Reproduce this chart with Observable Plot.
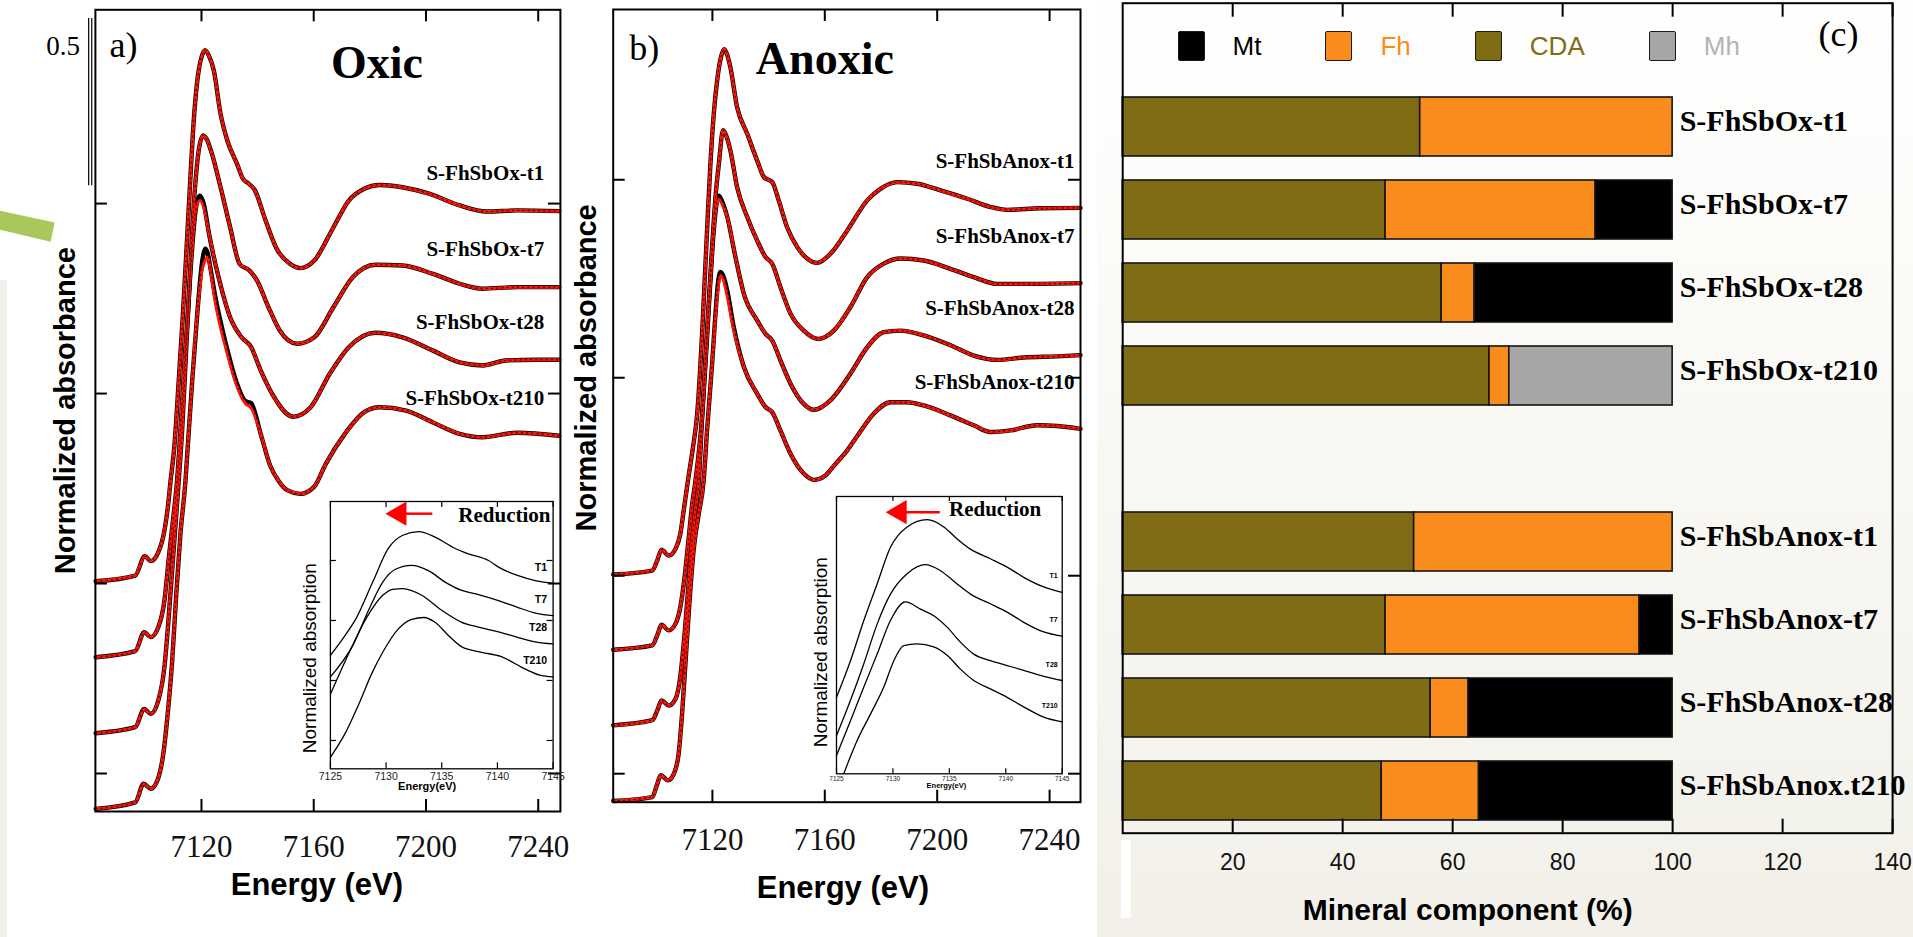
<!DOCTYPE html>
<html>
<head>
<meta charset="utf-8">
<script src="https://cdn.jsdelivr.net/npm/d3@7"></script>
<script src="https://cdn.jsdelivr.net/npm/@observablehq/plot@0.6"></script>
<style>
html,body{margin:0;padding:0;}
body{width:1913px;height:937px;position:relative;overflow:hidden;background:#fff;font-family:"Liberation Sans",Arial,sans-serif;}
.abs{position:absolute;}
</style>
</head>
<body>
<div class="abs" style="left:1097px;top:0;width:816px;height:937px;background:linear-gradient(180deg,#ffffff 0%,#fbfaf6 35%,#f2f0e9 100%);"></div>
<div class="abs" style="left:0;top:280px;width:7px;height:657px;background:#f1efe8;"></div>
<div class="abs" style="left:0;top:210px;width:55px;height:32px;background:#a8c85c;clip-path:polygon(0 2%,99.5% 39%,92% 99%,0 62%);"></div>
<div class="abs" style="left:1121px;top:840px;width:10px;height:78px;background:#ffffff;"></div>
<div class="abs" style="left:40px;top:29px;width:40px;height:34px;text-align:right;font:27px 'Liberation Serif',serif;line-height:34px;white-space:nowrap;">0.5</div>
<div id="legend" class="abs" style="left:1177.6px;top:31px;height:30px;display:flex;align-items:center;z-index:5;"></div>
<script>
const serif = "'Liberation Serif','Times New Roman',serif";
const sans = "'Liberation Sans',Arial,Helvetica,sans-serif";

// ---------- Panel (a) Oxic XANES: [energy eV, measured, fit (only where it differs)] ----------
const oxicNames = ["S-FhSbOx-t1", "S-FhSbOx-t7", "S-FhSbOx-t28", "S-FhSbOx-t210"];
const oxT1 = [[7082.3,1.006],[7096.4,1.021],[7099.8,1.072],[7101.9,1.059],[7104.6,1.082],[7106.8,1.139],[7108.0,1.2],[7109.0,1.271],[7110.3,1.358],[7111.9,1.534],[7113.4,1.711],[7114.7,1.884],[7116.0,2.061],[7117.0,2.192],[7117.9,2.279],[7119.0,2.35],[7120.2,2.39],[7121.3,2.404],[7122.6,2.39],[7124.4,2.35],[7126.8,2.236],[7129.2,2.166],[7132.7,2.104],[7134.8,2.065],[7136.4,2.055],[7139.1,2.034],[7142.5,1.963],[7146.6,1.884],[7151.4,1.842],[7155.2,1.83],[7160.2,1.85],[7167.0,1.937],[7172.5,2.008],[7178.0,2.039],[7183.4,2.049],[7191.6,2.043],[7201.1,2.026],[7212.0,1.995],[7221.6,1.979],[7232.5,1.982],[7247.5,1.98]];
const oxT7 = [[7082.3,0.806],[7096.4,0.822],[7099.6,0.872],[7101.9,0.859],[7104.6,0.885],[7106.8,0.955],[7108.4,1.07],[7109.9,1.17],[7111.3,1.271],[7112.5,1.403],[7113.9,1.578],[7115.5,1.753],[7116.7,1.929],[7117.9,2.061],[7119.0,2.139],[7120.6,2.179],[7121.8,2.17],[7123.4,2.139],[7126.8,2.043],[7130.2,1.938],[7133.6,1.841],[7137.1,1.824],[7139.8,1.797],[7143.9,1.727],[7147.9,1.666],[7154.1,1.631],[7160.2,1.648],[7167.0,1.727],[7173.9,1.806],[7182.0,1.839],[7191.6,1.837],[7202.5,1.815],[7212.0,1.789],[7220.2,1.776],[7232.5,1.78],[7247.5,1.78]];
const oxT28 = [[7082.3,0.606],[7096.4,0.622],[7099.6,0.67],[7101.9,0.657],[7104.6,0.692],[7106.8,0.78],[7108.2,0.9],[7109.6,1.04],[7110.8,1.16],[7111.9,1.271],[7113.1,1.403],[7114.3,1.578],[7115.5,1.753],[7116.7,1.885],[7117.9,1.982],[7119.4,2.021,2.008],[7120.8,2.0,1.99],[7122.7,1.92],[7126.1,1.806],[7130.2,1.701],[7134.3,1.648],[7137.7,1.622],[7141.1,1.561],[7145.2,1.499],[7152.7,1.439],[7158.9,1.464],[7165.7,1.552],[7172.5,1.622],[7182.0,1.66],[7191.6,1.648],[7202.5,1.613],[7212.0,1.582],[7220.2,1.574],[7228.4,1.587],[7239.3,1.589],[7247.5,1.589]];
const oxT210 = [[7082.3,0.407],[7096.4,0.424],[7099.4,0.473],[7101.9,0.46],[7104.3,0.482],[7106.4,0.552],[7108.0,0.66],[7109.5,0.79],[7111.0,0.97],[7112.5,1.13],[7114.3,1.271],[7115.1,1.359],[7116.7,1.534],[7118.5,1.71],[7120.2,1.845,1.824],[7121.4,1.881,1.852],[7122.2,1.87,1.859],[7123.2,1.83,1.825],[7124.8,1.76,1.745],[7128.9,1.625,1.613],[7132.3,1.534,1.526],[7135.7,1.48,1.473],[7137.7,1.475,1.462],[7141.1,1.394],[7144.5,1.31],[7147.5,1.27],[7150.7,1.245],[7155.2,1.236],[7160.2,1.255],[7164.3,1.315],[7171.1,1.394],[7178.0,1.451],[7183.4,1.464],[7192.9,1.455],[7202.5,1.424],[7212.0,1.394],[7220.2,1.385],[7232.5,1.397],[7247.5,1.389]];

// ---------- Panel (b) Anoxic XANES ----------
const anoxNames = ["S-FhSbAnox-t1", "S-FhSbAnox-t7", "S-FhSbAnox-t28", "S-FhSbAnox-t210"];
const anT1 = [[7084.7,1.003],[7098.6,1.013],[7100.4,1.039],[7101.9,1.066],[7104.5,1.051],[7106.9,1.068],[7108.6,1.106],[7109.8,1.165],[7111.4,1.245],[7113.0,1.32],[7114.6,1.409],[7116.4,1.619],[7118.1,1.872],[7119.3,2.04],[7120.5,2.167],[7121.7,2.251],[7122.9,2.305],[7124.2,2.33],[7125.3,2.315],[7126.4,2.284],[7128.8,2.183],[7132.4,2.116],[7135.9,2.049],[7138.3,2.007],[7141.3,1.994],[7143.6,1.948],[7146.6,1.88],[7150.2,1.83],[7153.7,1.801],[7157.3,1.79],[7162.0,1.813],[7168.0,1.872],[7175.1,1.948],[7179.8,1.977],[7185.8,1.994],[7192.9,1.99],[7201.2,1.973],[7210.7,1.952],[7219.0,1.931],[7224.9,1.924],[7236.8,1.928],[7251.0,1.929]];
const anT7 = [[7084.7,0.813],[7098.6,0.824],[7100.4,0.85],[7101.9,0.876],[7104.5,0.862],[7106.9,0.879],[7108.6,0.921],[7110.1,0.996],[7111.5,1.09],[7112.8,1.18],[7114.0,1.241],[7116.4,1.409],[7118.1,1.619],[7119.9,1.83],[7121.1,1.956],[7122.3,2.04],[7123.8,2.125],[7125.0,2.11],[7126.4,2.074],[7128.8,1.981],[7132.4,1.906],[7135.9,1.847],[7138.9,1.805],[7141.3,1.788],[7144.2,1.729],[7147.8,1.662],[7152.5,1.619],[7157.7,1.598],[7163.2,1.619],[7169.1,1.678],[7175.1,1.754],[7181.0,1.788],[7186.9,1.801],[7195.2,1.796],[7204.7,1.775],[7213.0,1.754],[7221.4,1.737],[7230.8,1.737],[7251.0,1.739]];
const anT28 = [[7084.7,0.622],[7098.6,0.635],[7100.4,0.66],[7101.9,0.685],[7104.5,0.672],[7106.9,0.689],[7108.4,0.736],[7109.8,0.828],[7111.2,0.95],[7112.5,1.07],[7113.8,1.16],[7115.2,1.241],[7116.4,1.409],[7117.9,1.577],[7119.3,1.746],[7120.5,1.872],[7121.3,1.93],[7122.3,1.96,1.95],[7123.5,1.945,1.938],[7125.3,1.906],[7128.2,1.805],[7131.2,1.712],[7135.9,1.645],[7138.9,1.611],[7141.3,1.594],[7144.2,1.544],[7147.8,1.485],[7152.5,1.434],[7156.1,1.419],[7162.0,1.443],[7169.1,1.51],[7175.1,1.577],[7181.0,1.615],[7186.9,1.619],[7195.2,1.607],[7204.7,1.582],[7213.0,1.556],[7221.4,1.545],[7230.8,1.551],[7242.7,1.554],[7251.0,1.557]];
const anT210 = [[7084.7,0.431],[7098.6,0.441],[7100.2,0.47],[7101.6,0.496],[7104.3,0.483],[7106.3,0.5],[7108.0,0.551],[7109.3,0.66],[7110.6,0.8],[7112.0,0.95],[7113.4,1.07],[7115.0,1.15],[7116.9,1.241],[7118.1,1.367],[7119.9,1.535],[7121.1,1.662,1.655],[7122.0,1.74,1.725],[7122.9,1.767,1.758],[7124.0,1.755,1.745],[7125.3,1.72,1.705],[7127.6,1.628,1.62],[7131.2,1.527],[7135.9,1.46],[7138.9,1.426],[7141.3,1.413],[7144.2,1.367],[7147.8,1.308],[7152.5,1.258],[7156.1,1.242],[7160.0,1.252],[7163.5,1.28],[7167.5,1.312],[7171.5,1.352],[7177.4,1.409],[7183.4,1.438],[7189.3,1.438],[7195.2,1.43],[7204.7,1.405],[7213.0,1.38],[7219.0,1.363],[7226.1,1.367],[7235.6,1.38],[7242.7,1.378],[7251.0,1.371]];

// ---------- Insets: white-line region [energy eV, normalized absorption] ----------
const insetNames = ["T1", "T7", "T28", "T210"];
const oxInT1 = [[7125.0,0.242],[7126.2,0.272],[7127.3,0.303],[7128.8,0.364],[7130.2,0.42],[7131.5,0.442],[7132.9,0.448],[7134.4,0.439],[7136.2,0.42],[7137.4,0.411],[7139.2,0.4],[7140.1,0.389],[7141.8,0.375],[7143.5,0.366],[7145.0,0.362]];
const oxInT7 = [[7125.0,0.206],[7127.0,0.258],[7128.5,0.32],[7129.7,0.364],[7130.8,0.385],[7132.3,0.392],[7133.8,0.383],[7135.3,0.364],[7136.8,0.35],[7138.3,0.343],[7140.1,0.333],[7141.8,0.322],[7143.5,0.312],[7145.0,0.308]];
const oxInT28 = [[7125.0,0.177],[7126.7,0.247],[7128.2,0.303],[7129.7,0.342],[7130.6,0.352],[7131.5,0.353],[7133.2,0.342],[7135.0,0.317],[7136.8,0.297],[7138.3,0.289],[7140.1,0.281],[7141.8,0.272],[7143.5,0.264],[7145.0,0.261]];
const oxInT210 = [[7125.0,0.072],[7126.3,0.111],[7127.7,0.167],[7128.7,0.211],[7129.7,0.247],[7131.1,0.286],[7132.3,0.302],[7133.4,0.305],[7134.4,0.297],[7135.6,0.275],[7136.8,0.256],[7138.6,0.247],[7140.3,0.24],[7142.5,0.219],[7143.8,0.209],[7145.0,0.206]];
const anInT1 = [[7125.0,0.172],[7126.24,0.233],[7127.42,0.3],[7128.6,0.361],[7129.78,0.422],[7131.26,0.456],[7133.03,0.468],[7134.51,0.456],[7135.69,0.436],[7136.87,0.419],[7138.64,0.403],[7140.12,0.389],[7141.59,0.372],[7143.36,0.356],[7144.99,0.347]];
const anInT7 = [[7125.0,0.108],[7126.24,0.167],[7127.42,0.228],[7128.6,0.294],[7129.78,0.344],[7131.26,0.378],[7132.88,0.393],[7134.21,0.383],[7135.69,0.361],[7136.87,0.344],[7138.64,0.328],[7140.12,0.314],[7141.59,0.297],[7143.36,0.281],[7144.99,0.274]];
const anInT28 = [[7125.0,0.075],[7126.24,0.133],[7127.42,0.189],[7128.6,0.244],[7129.78,0.3],[7131.11,0.331],[7132.44,0.319],[7133.62,0.308],[7134.8,0.289],[7135.98,0.264],[7137.16,0.244],[7138.64,0.233],[7140.12,0.225],[7141.59,0.217],[7143.36,0.207],[7144.99,0.2]];
const anInT210 = [[7125.65,0.045],[7126.83,0.1],[7128.01,0.144],[7129.19,0.189],[7130.08,0.233],[7130.96,0.258],[7132.14,0.261],[7133.62,0.256],[7134.8,0.242],[7135.98,0.219],[7137.16,0.2],[7138.64,0.186],[7140.12,0.172],[7141.59,0.156],[7143.36,0.139],[7144.99,0.131]];

// ---------- Panel (c) linear combination fit (%) ----------
const samples = ["S-FhSbOx-t1","S-FhSbOx-t7","S-FhSbOx-t28","S-FhSbOx-t210","S-FhSbAnox-t1","S-FhSbAnox-t7","S-FhSbAnox-t28","S-FhSbAnox.t210"];
const minerals = ["Mt", "Fh", "CDA", "Mh"];
const mineralColors = ["#000000", "#fa8c1e", "#7f6c14", "#a6a6a6"];
const legendTextColors = ["#000000", "#fa8c1e", "#7f6c14", "#b4b4b4"];
const cdaPct = [54.1, 47.8, 58.0, 66.7, 53.0, 47.8, 56.0, 47.1];
const fhPct  = [45.9, 38.2, 6.0, 3.6, 47.0, 46.2, 6.9, 17.7];
const mtPct  = [0, 14.0, 36.0, 0, 0, 6.0, 37.1, 35.2];
const mhPct  = [0, 0, 0, 29.7, 0, 0, 0, 0];

// ---------- tick values ----------
const energyTicks = [7120, 7160, 7200, 7240];
const absTicks = [0.5, 1, 1.5, 2];
const insetETicks = [7125, 7130, 7135, 7140, 7145];
const insetVTicks = [0.1, 0.2, 0.3, 0.4];
const pctTicks = [20, 40, 60, 80, 100, 120, 140];

const plain = d => String(d);

function rowsOf(names, curves) {
  return curves.flatMap((c, i) => c.map(p => ({name: names[i], E: p[0], data: p[1], fit: p.length > 2 ? p[2] : p[1]})));
}
function endsOf(names, curves) {
  return curves.map((c, i) => { const p = c[c.length - 1]; return {name: names[i], E: p[0], v: p.length > 2 ? p[2] : p[1]}; });
}
function place(svg, left, top, z) {
  const d = document.createElement("div");
  d.style.cssText = `position:absolute;left:${left}px;top:${top}px;width:${svg.getAttribute("width")}px;z-index:${z||1}`;
  d.appendChild(svg);
  document.body.appendChild(d);
}

function mainPanel(o) {
  const rows = rowsOf(o.names, o.curves);
  const ends = endsOf(o.names, o.curves);
  const fw = o.width - o.ml - o.mr, fh = o.height - o.mt - o.mb;
  const extra = o.extra || [];
  return Plot.plot({
    width: o.width, height: o.height,
    marginLeft: o.ml, marginRight: o.mr, marginTop: o.mt, marginBottom: o.mb,
    x: {domain: o.xDomain, axis: null},
    y: {domain: o.yDomain, axis: null},
    style: {background: "transparent", overflow: "visible", fontFamily: sans, color: "#000"},
    marks: [
      Plot.line(rows, {x: "E", y: "data", z: "name", stroke: "#000", strokeWidth: 4.4, curve: "monotone-x"}),
      Plot.line(rows, {x: "E", y: "fit", z: "name", stroke: "#ff1408", strokeWidth: 3, curve: "monotone-x"}),
      Plot.line(rows, {x: "E", y: "data", z: "name", stroke: "#000", strokeWidth: 0.9, strokeDasharray: "1.2 4", curve: "monotone-x"}),
      Plot.frame({stroke: "#000", strokeWidth: 2}),
      Plot.tickX(energyTicks, {x: d => d, insetTop: fh - 12, strokeWidth: 2}),
      Plot.tickX(energyTicks, {x: d => d, insetBottom: fh - 12, strokeWidth: 2}),
      Plot.tickY(absTicks, {y: d => d, insetRight: fw - 12, strokeWidth: 2}),
      Plot.tickY(absTicks, {y: d => d, insetLeft: fw - 12, strokeWidth: 2}),
      Plot.text(energyTicks, {x: d => d, text: plain, frameAnchor: "bottom", textAnchor: "middle", lineAnchor: "middle", dy: o.tickDy, fontSize: 31, fontFamily: serif, fill: "#111"}),
      Plot.text(["Energy (eV)"], {frameAnchor: "bottom", textAnchor: "middle", lineAnchor: "middle", dx: o.xlabDx, dy: o.xlabDy, fontSize: 31, fontWeight: "bold"}),
      Plot.text(["Normalized absorbance"], {frameAnchor: "left", textAnchor: "middle", lineAnchor: "middle", rotate: -90, dx: o.ylabDx, dy: o.ylabDy, fontSize: 29, fontWeight: "bold"}),
      Plot.text([o.tag], {frameAnchor: "top-left", textAnchor: "middle", lineAnchor: "middle", dx: o.tagDx, dy: o.tagDy, fontSize: 36, fontFamily: serif}),
      Plot.text([o.title], {frameAnchor: "top", textAnchor: "middle", lineAnchor: "bottom", dx: o.titleDx, dy: o.titleDy, fontSize: 46, fontWeight: "bold", fontFamily: serif}),
      Plot.text(ends, {x: "E", y: "v", text: "name", textAnchor: "end", lineAnchor: "bottom", dx: o.labDx, dy: o.labDy, fontSize: 21, fontWeight: "bold", fontFamily: serif}),
      ...extra
    ]
  });
}

function insetPanel(o) {
  const rows = rowsOf(insetNames, o.curves);
  const ends = endsOf(insetNames, o.curves);
  const fw = o.width - o.ml - o.mr, fh = o.height - o.mt - o.mb;
  const marks = [
    Plot.line(rows, {x: "E", y: "data", z: "name", stroke: "#000", strokeWidth: 1.3, curve: "monotone-x"}),
    Plot.frame({stroke: "#000", strokeWidth: 1.3}),
    Plot.tickX(insetETicks, {x: d => d, insetTop: fh - o.tl, strokeWidth: 1.2}),
    Plot.tickX(insetETicks, {x: d => d, insetBottom: fh - o.tl, strokeWidth: 1.2}),
    Plot.text(insetETicks, {x: d => d, text: plain, frameAnchor: "bottom", textAnchor: "middle", lineAnchor: "middle", dy: o.tickDy, fontSize: o.tickFs, fill: "#222"}),
    Plot.text(["Energy(eV)"], {frameAnchor: "bottom", textAnchor: "middle", lineAnchor: "middle", dx: o.xlabDx, dy: o.xlabDy, fontSize: o.xlabFs, fontWeight: "bold"}),
    Plot.text(["Normalized absorption"], {frameAnchor: "left", textAnchor: "middle", lineAnchor: "middle", rotate: -90, dx: o.ylabDx, dy: o.ylabDy, fontSize: 19}),
    Plot.text(["Reduction"], {frameAnchor: "top-right", textAnchor: "end", lineAnchor: "bottom", dx: o.redDx, dy: o.redDy, fontSize: 21, fontWeight: "bold", fontFamily: serif}),
    Plot.ruleY([o.arrowV], {y: d => d, x1: o.arrowX1, x2: o.arrowX2, stroke: "#ff0000", strokeWidth: 2.5}),
    Plot.dot([o.arrowV], {x: o.arrowHead, y: d => d, symbol: "triangle", r: 9, rotate: -90, fill: "#ff0000", stroke: "none"}),
    Plot.text(ends, {x: "E", y: "v", text: "name", textAnchor: "end", lineAnchor: "bottom", dx: o.labDx, dy: o.labDy, fontSize: o.labFs, fontWeight: "bold"})
  ];
  if (o.yTicks) {
    marks.push(Plot.tickY(insetVTicks, {y: d => d, insetRight: fw - o.tl, strokeWidth: 1.2}));
    marks.push(Plot.tickY(insetVTicks, {y: d => d, insetLeft: fw - o.tl, strokeWidth: 1.2}));
  }
  return Plot.plot({
    width: o.width, height: o.height,
    marginLeft: o.ml, marginRight: o.mr, marginTop: o.mt, marginBottom: o.mb,
    x: {domain: [7125, 7145], axis: null},
    y: {domain: o.yDomain, axis: null},
    style: {background: "transparent", overflow: "visible", fontFamily: sans, color: "#000"},
    marks
  });
}

// Panel (a)
place(mainPanel({
  names: oxicNames, curves: [oxT1, oxT7, oxT28, oxT210],
  width: 590, height: 937, ml: 94.9, mr: 30.1, mt: 9.3, mb: 126,
  xDomain: [7082.2, 7247.9], yDomain: [0.4, 2.51],
  tickDy: 36, xlabDx: -11, xlabDy: 74, ylabDx: -30, ylabDy: 0,
  tag: "a)", tagDx: 28, tagDy: 36, title: "Oxic", titleDx: 49, titleDy: 68,
  labDx: -15, labDy: -31,
  extra: [
    Plot.ruleX([7079.8, 7080.9], {x: d => d, y1: 2.047, y2: 2.487, stroke: "#000", strokeWidth: 1.2})
  ]
}), 0, 0, 1);

// Panel (b)
place(mainPanel({
  names: anoxNames, curves: [anT1, anT7, anT28, anT210],
  width: 537, height: 937, ml: 52.7, mr: 17, mt: 9, mb: 135.3,
  xDomain: [7084.7, 7251.0], yDomain: [0.428, 2.43],
  tickDy: 38, xlabDx: -4, xlabDy: 86, ylabDx: -26, ylabDy: -38,
  tag: "b)", tagDx: 31, tagDy: 38.5, title: "Anoxic", titleDx: -22, titleDy: 64,
  labDx: -6, labDy: -40
}), 560, 0, 2);

// Inset (a)
place(insetPanel({
  curves: [oxInT1, oxInT7, oxInT28, oxInT210],
  width: 280, height: 310, ml: 44.9, mr: 12.4, mt: 11, mb: 31.7,
  yDomain: [0.0528, 0.4983], tl: 6, yTicks: true,
  tickDy: 8, tickFs: 10.5, xlabDx: -14.6, xlabDy: 18, xlabFs: 11,
  ylabDx: -20, ylabDy: 23, redDx: -2.6, redDy: 20.7,
  arrowV: 0.478, arrowX1: 7131.6, arrowX2: 7134.2, arrowHead: 7131.2,
  labDx: -6, labDy: -12.5, labFs: 10.5
}), 285, 490, 3);

// Inset (b)
place(insetPanel({
  curves: [anInT1, anInT7, anInT28, anInT210],
  width: 280, height: 315, ml: 41, mr: 13.3, mt: 11, mb: 26.7,
  yDomain: [0.0445, 0.5067], tl: 5, yTicks: false,
  tickDy: 5, tickFs: 6.5, xlabDx: -3, xlabDy: 11.7, xlabFs: 7.5,
  ylabDx: -16, ylabDy: 17, redDx: -21, redDy: 19,
  arrowV: 0.4805, arrowX1: 7131.0, arrowX2: 7134.2, arrowHead: 7130.6,
  labDx: -4.4, labDy: -14, labFs: 7
}), 795, 485, 3);

// Panel (c)
const slots = [...samples.slice(0, 4), " ", ...samples.slice(4)];
const stackOrder = ["CDA", "Fh", "Mt", "Mh"];
const barRows = samples.flatMap((s, i) => [
  {sample: s, mineral: "CDA", value: cdaPct[i]},
  {sample: s, mineral: "Fh", value: fhPct[i]},
  {sample: s, mineral: "Mt", value: mtPct[i]},
  {sample: s, mineral: "Mh", value: mhPct[i]}
]).filter(d => d.value > 0);
const cW = 816, cH = 937, cML = 25.2, cMR = 20.9, cMT = 2.7, cMB = 104.3;
const cFH = cH - cMT - cMB;
place(Plot.plot({
  width: cW, height: cH, marginLeft: cML, marginRight: cMR, marginTop: cMT, marginBottom: cMB,
  x: {domain: [0, 140], axis: null},
  y: {type: "band", domain: slots, range: [73, 843.7], padding: 0.285, axis: null},
  color: {domain: minerals, range: mineralColors},
  style: {background: "transparent", overflow: "visible", fontFamily: sans, color: "#000"},
  marks: [
    Plot.barX(barRows, {x: "value", y: "sample", fill: "mineral", order: stackOrder, stroke: "#151515", strokeWidth: 1.6}),
    Plot.frame({stroke: "#000", strokeWidth: 2}),
    Plot.tickX(pctTicks, {x: d => d, insetTop: cFH - 14, strokeWidth: 2}),
    Plot.tickX(pctTicks, {x: d => d, insetBottom: cFH - 14, strokeWidth: 2}),
    Plot.text(pctTicks, {x: d => d, text: plain, frameAnchor: "bottom", textAnchor: "middle", lineAnchor: "middle", dy: 29, fontSize: 23, fill: "#111"}),
    Plot.text(["Mineral component (%)"], {frameAnchor: "bottom", textAnchor: "middle", lineAnchor: "middle", dx: -40, dy: 77, fontSize: 30, fontWeight: "bold"}),
    Plot.text(samples, {x: 100, y: d => d, dx: 7, dy: -6, textAnchor: "start", lineAnchor: "middle", fontSize: 30, fontWeight: "bold", fontFamily: serif}),
    Plot.text(["(c)"], {frameAnchor: "top-right", textAnchor: "middle", lineAnchor: "bottom", dx: -54, dy: 42.7, fontSize: 36, fontFamily: serif})
  ]
}), 1097, 0, 2);

// Legend (HTML, built from the mineral arrays)
const lg = document.getElementById("legend");
minerals.forEach((m, i) => {
  const sw = document.createElement("div");
  sw.style.cssText = `width:27px;height:30px;box-sizing:border-box;border:1.6px solid #1a1a1a;border-radius:2px;background:${mineralColors[i]};flex:none;`;
  const tx = document.createElement("div");
  tx.textContent = m;
  tx.style.cssText = `margin-left:28px;margin-right:${i < minerals.length - 1 ? 64 : 0}px;font:26px 'Liberation Sans',Arial,sans-serif;color:${legendTextColors[i]};line-height:30px;`;
  lg.appendChild(sw); lg.appendChild(tx);
});
</script>
</body>
</html>
